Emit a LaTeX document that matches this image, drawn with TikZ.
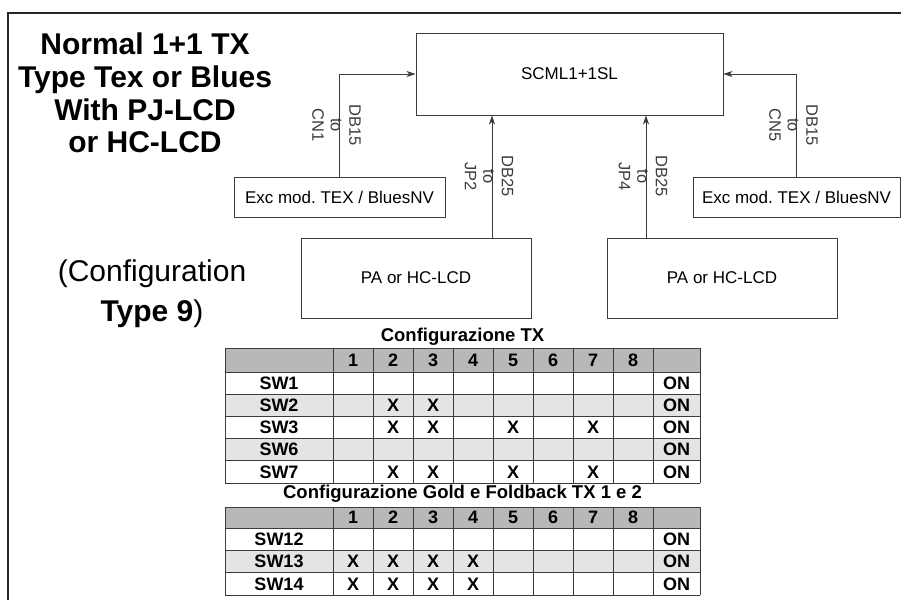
\documentclass[tikz,border=0pt]{standalone}
\usepackage{fontspec}
\setmainfont{Liberation Sans}
\usepackage{xcolor}
\usetikzlibrary{positioning, arrows.meta}

\definecolor{headgray}{RGB}{184,184,184}
\definecolor{rowgray}{RGB}{228,228,228}
\definecolor{linegray}{RGB}{60,60,60}
\frenchspacing

\begin{document}
\begin{tikzpicture}[x=1pt, y=-1pt,
  box/.style={draw=linegray, line width=0.9pt, inner sep=0pt, font=\fontsize{17}{19}\selectfont},
  arrow/.style={-{Stealth[length=9pt, width=6pt, inset=2.5pt]}, line width=0.9pt, linegray},
  wire/.style={line width=0.9pt, linegray},
  note/.style={xshift=-3pt, rotate=-90, font=\fontsize{16.5}{18.5}\selectfont, align=center, inner sep=0pt},
  title/.style={font=\bfseries\fontsize{30}{32.7}\selectfont, align=center, inner sep=0pt},
  ttl/.style={font=\bfseries\fontsize{18.5}{19}\selectfont, inner sep=0pt},
  cell/.style={font=\bfseries\fontsize{18}{18}\selectfont, inner sep=0pt},
  grid/.style={line width=0.9pt, linegray}]
  \useasboundingbox (0,0) rectangle (901,599);
  \draw[line width=2.6pt, black!85] (8,602) -- (8,13) -- (903,13);

  % titles
  \node[title] (title) at (145,93.2) {Normal 1+1 TX\\Type Tex or Blues\\With PJ-LCD\\or HC-LCD};
  \node[font=\fontsize{30}{40}\selectfont, align=center, inner sep=0pt] (config) at (152,294)
    {(Configuration\\\textbf{Type 9})};

  % blocks
  \node[box, minimum width=307pt, minimum height=82pt] (scml) at (569.5,74) {SCML1+1SL};
  \node[box, minimum width=211pt, minimum height=40pt] (excL) at (339.5,197) {Exc mod. TEX / BluesNV};
  \node[box, minimum width=207pt, minimum height=40pt] (excR) at (796.5,197) {Exc mod. TEX / BluesNV};
  \node[box, minimum width=230pt, minimum height=80pt] (paL) at (416,278) {PA or HC-LCD};
  \node[box, minimum width=230pt, minimum height=80pt] (paR) at (722,278) {PA or HC-LCD};
  \coordinate (jp2) at (492,0);
  \coordinate (jp4) at (646,0);

  % connections
  \draw[arrow] (excL.north) |- node[note, pos=0.25] {DB15\\to\\CN1} (scml.west);
  \draw[arrow] (excR.north) |- node[note, pos=0.25] {DB15\\to\\CN5} (scml.east);
  \draw[arrow] (paL.north -| jp2) -- node[note] {DB25\\to\\JP2} (scml.south -| jp2);
  \draw[arrow] (paR.north -| jp4) -- node[note] {DB25\\to\\JP4} (scml.south -| jp4);

  % table 1
  \node[ttl] (tab1) at (462.5,337) {Configurazione TX};
  \fill[headgray] (225,348) rectangle (700,372);
  \foreach \r in {2,4}
    \fill[rowgray] (225,{372+22.2*(\r-1)}) rectangle (700,{372+22.2*\r});
  \foreach \y in {348,372,394.2,416.4,438.6,460.8,483}
    \draw[grid] (225,\y) -- (700,\y);
  \foreach \x in {225,333,373,413,453,493,533,573,613,653,700}
    \draw[grid] (\x,348) -- (\x,483);
  \foreach \c in {1,...,8}
    \node[cell] (h1-\c) at ({313+40*\c},360) {\c};
  \foreach \n [count=\r] in {SW1,SW2,SW3,SW6,SW7} {
    \node[cell] (s1-\r) at (279,{360.9+22.2*\r}) {\n};
    \node[cell] (on1-\r) at (676.5,{360.9+22.2*\r}) {ON};
  }
  \foreach \c/\r in {2/2,3/2,2/3,3/3,5/3,7/3,2/5,3/5,5/5,7/5}
    \node[cell] (x1-\r-\c) at ({313+40*\c},{360.9+22.2*\r}) {X};

  % table 2
  \node[ttl] (tab2) at (462.5,494) {Configurazione Gold e Foldback TX 1 e 2};
  \fill[headgray] (225,507) rectangle (700,528);
  \fill[rowgray] (225,550.4) rectangle (700,572.8);
  \foreach \y in {507,528,550.4,572.8,595.2}
    \draw[grid] (225,\y) -- (700,\y);
  \foreach \x in {225,333,373,413,453,493,533,573,613,653,700}
    \draw[grid] (\x,507) -- (\x,595.2);
  \foreach \c in {1,...,8}
    \node[cell] (h2-\c) at ({313+40*\c},517.5) {\c};
  \foreach \n [count=\r] in {SW12,SW13,SW14} {
    \node[cell] (s2-\r) at (279,{516.8+22.4*\r}) {\n};
    \node[cell] (on2-\r) at (676.5,{516.8+22.4*\r}) {ON};
  }
  \foreach \c/\r in {1/2,2/2,3/2,4/2,1/3,2/3,3/3,4/3}
    \node[cell] (x2-\r-\c) at ({313+40*\c},{516.8+22.4*\r}) {X};
\end{tikzpicture}
\end{document}
